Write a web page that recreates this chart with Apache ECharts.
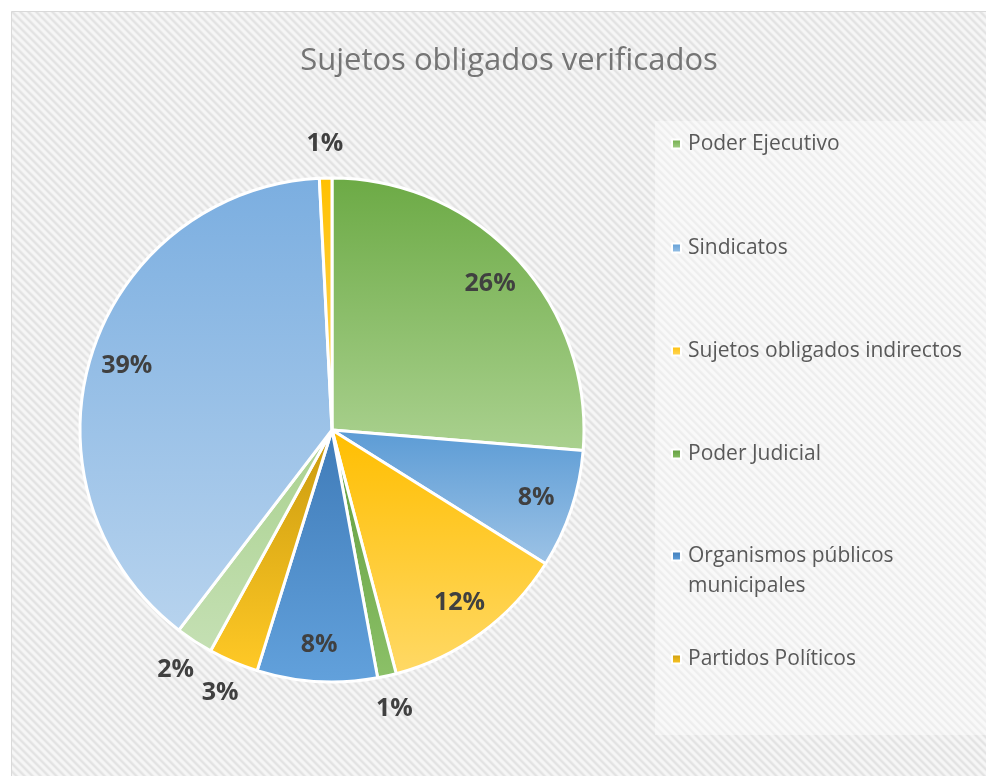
<!DOCTYPE html>
<html>
<head>
<meta charset="utf-8">
<script src="https://cdn.jsdelivr.net/npm/echarts@6/dist/echarts.min.js"></script>
<style>
  body { margin: 0; background: #fff; }
  #main { width: 986px; height: 776px; }
</style>
</head>
<body>
<div id="main"></div>
<script>
// data (percent of verified subjects)
const categories = [
    'Poder Ejecutivo',
    'Sindicatos',
    'Sujetos obligados indirectos',
    'Poder Judicial',
    'Organismos públicos municipales',
    'Partidos Políticos',
    'Otros (7)',
    'Otros (8)',
    'Otros (9)'
];
const shares = [26.3, 7.6, 12.0, 1.2, 7.7, 3.2, 2.4, 38.8, 0.8];
// only the first six show up in the legend of the original
const legendNames = categories.slice(0, 6);
// slices whose label sits outside the pie
const outsideLabel = ['Poder Judicial', 'Partidos Políticos', 'Otros (7)', 'Otros (9)'];

const sliceColors = [
    ['#6CAA45', '#AAD18F'],
    ['#5B9BD5', '#9DC3E6'],
    ['#FFBE00', '#FFD966'],
    ['#5E9A3B', '#8CC168'],
    ['#3F7BB8', '#62A1DC'],
    ['#C99A0E', '#FFC926'],
    ['#A9D18E', '#C5E0B4'],
    ['#7BAEE0', '#B7D3EE'],
    ['#FFC000', '#FFD966']
];

const FONT = '"Open Sans", "Noto Sans", sans-serif';

// diagonal stripe background like the office chart style
function stripes() {
    const c = document.createElement('canvas');
    c.width = 8; c.height = 8;
    const ctx = c.getContext('2d');
    const shade = ['#E2E2E2', '#E4E4E4', '#EAEAEA', '#F3F3F3', '#F6F6F6', '#F6F6F6', '#F3F3F3', '#EAEAEA'];
    for (let y = 0; y < 8; y++) {
        for (let x = 0; x < 8; x++) {
            ctx.fillStyle = shade[((x - y) % 8 + 8) % 8];
            ctx.fillRect(x, y, 1, 1);
        }
    }
    return c;
}

const chart = echarts.init(document.getElementById('main'));

const mainData = categories.map(function (name, i) {
    return {
        name: name,
        value: shares[i],
        itemStyle: {
            color: new echarts.graphic.LinearGradient(0, 0, 0, 1, [
                { offset: 0, color: sliceColors[i][0] },
                { offset: 1, color: sliceColors[i][1] }
            ])
        }
    };
});

function labelData(showOutside) {
    return categories.map(function (name, i) {
        const out = outsideLabel.indexOf(name) >= 0;
        return {
            name: name,
            value: shares[i],
            label: { show: out === showOutside }
        };
    });
}

const labelStyle = {
    position: 'inside',
    fontFamily: FONT,
    fontWeight: 'bold',
    fontSize: 25,
    color: '#404040',
    formatter: function (p) {
        return Math.round(p.percent) + '%';
    }
};

const legendTops = [124, 228, 331, 434, 506, 639];
const legends = legendNames.map(function (name, i) {
    const wrapped = name === 'Organismos públicos municipales';
    return {
        data: [name],
        left: 666,
        top: legendTops[i],
        orient: 'vertical',
        icon: 'rect',
        itemWidth: 9,
        itemHeight: 9,
        itemGap: 10,
        selectedMode: false,
        textStyle: {
            fontFamily: FONT,
            fontSize: 21,
            color: '#595959',
            lineHeight: 30,
            padding: [0, 0, 0, 2]
        },
        formatter: function (n) {
            if (wrapped) {
                return '\nOrganismos públicos\nmunicipales';
            }
            return n;
        }
    };
});

chart.setOption({
    animation: false,
    graphic: [
        {
            type: 'rect',
            shape: { x: 11.5, y: 11.5, width: 990, height: 790 },
            style: { fill: { image: stripes(), repeat: 'repeat' }, stroke: '#D9D9D9', lineWidth: 1 },
            z: -10
        },
        {
            type: 'rect',
            shape: { x: 655, y: 121, width: 340, height: 614 },
            style: { fill: 'rgba(255,255,255,0.4)' },
            z: -9
        }
    ],
    title: {
        text: 'Sujetos obligados verificados',
        left: 504,
        textAlign: 'center',
        top: 41,
        textStyle: {
            fontFamily: FONT,
            fontWeight: 'normal',
            fontSize: 31,
            color: '#757575'
        }
    },
    legend: legends,
    series: [
        {
            type: 'pie',
            name: 'main',
            center: [332, 430],
            radius: 252,
            startAngle: 90,
            clockwise: true,
            silent: true,
            label: { show: false },
            labelLine: { show: false },
            itemStyle: { borderColor: '#FFFFFF', borderWidth: 3 },
            data: mainData
        },
        {
            // labels drawn inside the big slices
            type: 'pie',
            name: 'inner labels',
            center: [332, 430],
            radius: [172, 252],
            startAngle: 90,
            silent: true,
            itemStyle: { color: 'rgba(0,0,0,0)', borderWidth: 0 },
            label: labelStyle,
            labelLine: { show: false },
            data: labelData(false)
        },
        {
            // labels for the thin slices, just off the rim
            type: 'pie',
            name: 'outer labels',
            center: [332, 430],
            radius: [256, 310],
            startAngle: 90,
            silent: true,
            itemStyle: { color: 'rgba(0,0,0,0)', borderWidth: 0 },
            label: labelStyle,
            labelLine: { show: false },
            data: labelData(true)
        }
    ]
});
</script>
</body>
</html>
